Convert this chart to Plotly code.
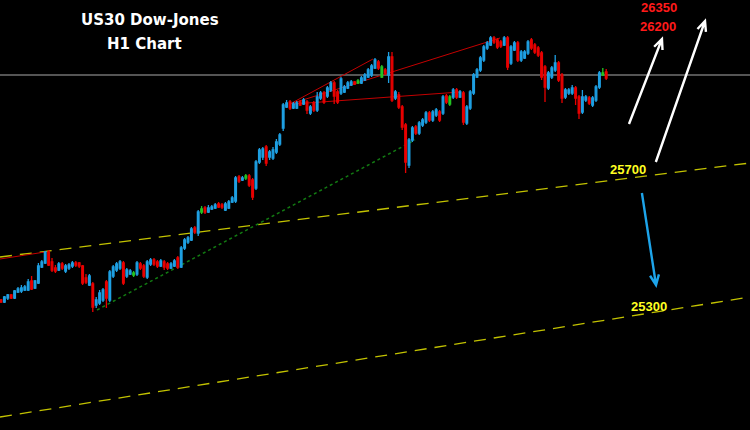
import math
import plotly.graph_objects as go

# ---------------- data (US30 H1 candles, price points) ----------------
candle_idx = list(range(179))
open_ = [25310,25304,25316,25325,25316,25334,25337,25340,25340,25367,
         25346,25361,25409,25421,25454,25424,25406,25400,25418,25397,
         25406,25412,25421,25421,25412,25376,25355,25358,25295,25301,
         25310,25364,25310,25382,25400,25406,25421,25382,25388,25391,
         25388,25418,25412,25379,25418,25430,25424,25412,25424,25418,
         25406,25412,25436,25409,25466,25484,25490,25526,25511,25574,
         25586,25574,25583,25586,25598,25595,25580,25586,25604,25607,
         25679,25670,25676,25682,25670,25646,25724,25739,25769,25739,
         25736,25754,25778,25826,25889,25904,25886,25886,25904,25898,
         25904,25871,25901,25880,25916,25931,25922,25940,25961,25934,
         25931,25934,25946,25955,25964,25961,25961,25970,25979,25985,
         26006,26024,25979,26000,25985,26039,25916,25925,25889,25835,
         25715,25790,25829,25811,25835,25844,25871,25850,25865,25874,
         25871,25922,25898,25919,25940,25919,25931,25841,25886,25931,
         25979,26000,26030,26066,26075,26096,26090,26084,26075,26096,
         26021,26060,26081,26030,26036,26051,26090,26075,26066,26051,
         26009,25946,25979,26000,26021,25985,25919,25931,25931,25946,
         25919,25874,25910,25916,25895,25910,25949,25985,25994]
high = [25313,25322,25328,25328,25340,25349,25355,25355,25373,25382,
        25370,25421,25430,25457,25460,25436,25415,25424,25424,25418,
        25421,25427,25427,25424,25415,25388,25388,25364,25319,25340,
        25346,25370,25400,25415,25424,25430,25427,25406,25403,25397,
        25427,25424,25418,25430,25436,25436,25430,25433,25430,25424,
        25424,25433,25442,25472,25496,25502,25529,25532,25580,25592,
        25592,25595,25595,25601,25604,25601,25604,25610,25622,25682,
        25685,25682,25688,25688,25676,25730,25766,25769,25775,25760,
        25769,25793,25811,25901,25910,25910,25904,25907,25910,25916,
        25910,25895,25907,25934,25937,25937,25952,25967,25967,25940,
        25979,25955,25967,25970,25967,25973,25982,25991,26006,26018,
        26036,26030,26015,26006,26054,26054,25940,25934,25895,25841,
        25796,25832,25835,25847,25856,25877,25877,25880,25886,25880,
        25925,25928,25925,25946,25946,25940,25937,25895,25940,25991,
        26006,26042,26075,26087,26102,26102,26096,26090,26102,26102,
        26075,26087,26087,26060,26060,26090,26096,26081,26072,26057,
        26015,25997,26012,26045,26027,25991,25946,25946,25955,25952,
        25925,25940,25925,25922,25922,25955,25997,26006,26003]
low = [25301,25301,25310,25313,25313,25331,25331,25337,25337,25340,
       25343,25358,25406,25418,25412,25394,25391,25397,25400,25391,
       25400,25406,25409,25406,25355,25358,25352,25274,25286,25295,
       25304,25286,25304,25376,25394,25400,25355,25376,25385,25379,
       25382,25400,25376,25373,25412,25412,25406,25409,25400,25400,
       25403,25409,25403,25406,25460,25478,25487,25508,25502,25568,
       25568,25571,25580,25583,25586,25583,25577,25583,25601,25601,
       25661,25667,25670,25649,25610,25640,25718,25730,25712,25730,
       25730,25748,25772,25817,25886,25880,25883,25883,25892,25895,
       25868,25865,25874,25874,25910,25898,25916,25934,25898,25898,
       25925,25931,25943,25952,25955,25958,25958,25967,25976,25979,
       26003,26000,25976,25985,25961,25904,25910,25883,25820,25691,
       25706,25784,25805,25805,25829,25838,25844,25844,25859,25844,
       25865,25898,25892,25913,25913,25916,25835,25835,25880,25925,
       25976,25994,26024,26060,26072,26078,26063,26066,26072,26000,
       26015,26057,26024,26024,26033,26045,26060,26048,26039,25970,
       25904,25940,25973,25994,25964,25901,25913,25925,25925,25895,
       25853,25868,25904,25895,25889,25904,25943,25982,25970]
close = [25304,25319,25325,25316,25337,25343,25346,25349,25364,25343,
         25367,25412,25424,25454,25415,25400,25397,25418,25406,25412,
         25415,25421,25415,25412,25361,25364,25382,25289,25310,25331,
         25340,25316,25394,25409,25418,25424,25361,25400,25397,25385,
         25421,25406,25382,25424,25430,25418,25412,25427,25409,25406,
         25418,25427,25409,25466,25490,25496,25523,25514,25574,25583,
         25574,25586,25589,25595,25589,25589,25598,25604,25616,25676,
         25667,25676,25682,25655,25619,25724,25760,25763,25721,25754,
         25760,25784,25805,25895,25901,25886,25898,25901,25895,25910,
         25880,25889,25880,25919,25931,25904,25946,25961,25922,25904,
         25973,25949,25961,25964,25958,25967,25976,25985,26000,26012,
         26030,26006,26009,25991,26039,25910,25934,25889,25829,25724,
         25790,25826,25811,25841,25850,25871,25850,25874,25880,25850,
         25919,25904,25919,25940,25919,25934,25844,25889,25934,25985,
         26000,26036,26069,26081,26096,26084,26069,26072,26096,26009,
         26069,26081,26030,26054,26054,26084,26066,26054,26045,25979,
         25949,25991,26006,26021,25970,25916,25940,25940,25946,25916,
         25871,25919,25919,25901,25916,25949,25991,25991,25976]
green_candles = [39, 59, 72, 105, 112, 132, 177]   # candles drawn in green

resistance_level = 25985                      # grey horizontal line
level_labels = ["26350", "26200", "25700", "25300"]
title_lines = ["US30 Dow-Jones", "H1 Chart"]

# ---------------- helpers ----------------
W, H = 750, 430
X0, X1 = -0.294, 220.294
Y0, Y1 = 24920, 26210

def to_px(x, y):
    return ((x - X0) / (X1 - X0) * W, (Y1 - y) / (Y1 - Y0) * H)

def to_data(px, py):
    return (X0 + px / W * (X1 - X0), Y1 - py / H * (Y1 - Y0))

fig = go.Figure()

main = [i for i in candle_idx if i not in green_candles]
fig.add_trace(go.Candlestick(
    x=[candle_idx[i] for i in main],
    open=[open_[i] for i in main], high=[high[i] for i in main],
    low=[low[i] for i in main], close=[close[i] for i in main],
    increasing=dict(line=dict(color="#1e9fe2", width=1.3), fillcolor="#1e9fe2"),
    decreasing=dict(line=dict(color="#e80000", width=1.3), fillcolor="#e80000"),
    whiskerwidth=0, showlegend=False, hoverinfo="skip"))
fig.add_trace(go.Candlestick(
    x=[candle_idx[i] for i in green_candles],
    open=[open_[i] for i in green_candles], high=[high[i] for i in green_candles],
    low=[low[i] for i in green_candles], close=[close[i] for i in green_candles],
    increasing=dict(line=dict(color="#22c322", width=1.3), fillcolor="#22c322"),
    decreasing=dict(line=dict(color="#22c322", width=1.3), fillcolor="#22c322"),
    whiskerwidth=0, showlegend=False, hoverinfo="skip"))

shapes = []
# grey horizontal level
shapes.append(dict(type="line", xref="paper", x0=0, x1=1, yref="y",
                   y0=resistance_level, y1=resistance_level,
                   line=dict(color="#555555", width=2), layer="below"))
# yellow channel lines
shapes.append(dict(type="line", xref="x", yref="y", x0=X0, y0=25439, x1=X1, y1=25721,
                   line=dict(color="#c2c200", width=1.3, dash="12px,8px"), layer="below"))
shapes.append(dict(type="line", xref="x", yref="y", x0=X0, y0=24959, x1=X1, y1=25319,
                   line=dict(color="#c2c200", width=1.3, dash="12px,8px"), layer="below"))
# green dotted support
shapes.append(dict(type="line", xref="x", yref="y", x0=28.24, y0=25280, x1=121.76, y1=25790,
                   line=dict(color="#127a12", width=1.5, dash="3px,3px"), layer="below"))
# red trend lines
red = "#c40000"
for (xa, ya, xb, yb) in [(X0, 25433, 12.94, 25454),
                         (85.0, 25898, 109.4, 26033),
                         (85.0, 25898, 146.76, 26096),
                         (85.9, 25898, 135.0, 25934)]:
    shapes.append(dict(type="line", xref="x", yref="y", x0=xa, y0=ya, x1=xb, y1=yb,
                       line=dict(color=red, width=1), layer="below"))

# arrows (tail -> head), drawn with open chevron heads
def arrow(tail, head, color, width=2.4, L=11, ang=24):
    tx, ty = to_px(*tail)
    hx, hy = to_px(*head)
    d = math.hypot(hx - tx, hy - ty)
    ux, uy = (hx - tx) / d, (hy - ty) / d
    pts = []
    for s in (1, -1):
        a = math.radians(ang) * s
        rx = ux * math.cos(a) - uy * math.sin(a)
        ry = ux * math.sin(a) + uy * math.cos(a)
        pts.append(to_data(hx - L * rx, hy - L * ry))
    p = (f"M {tail[0]},{tail[1]} L {head[0]},{head[1]} "
         f"M {pts[0][0]},{pts[0][1]} L {head[0]},{head[1]} L {pts[1][0]},{pts[1][1]}")
    return dict(type="path", xref="x", yref="y", path=p,
                line=dict(color=color, width=width))

shapes.append(arrow((184.7, 25838), (194.4, 26093), "white"))
shapes.append(arrow((192.6, 25724), (207.06, 26147), "white"))
shapes.append(arrow((188.5, 25631), (192.65, 25355), "#1da4ea"))

annotations = [
    dict(text=f"<b>{title_lines[0]}</b>", x=150 / W, y=1 - 20 / H),
    dict(text=f"<b>{title_lines[1]}</b>", x=144 / W, y=1 - 44 / H),
]
for a in annotations:
    a.update(xref="paper", yref="paper", showarrow=False, xanchor="center", yanchor="middle",
             font=dict(family="DejaVu Sans, Verdana", size=15, color="white"))

label_pos = [(659, 7, "#ff1a1a"), (658, 27, "#ff1a1a"), (628, 169, "#ffff22"), (649, 306, "#ffff22")]
for txt, (px, py, col) in zip(level_labels, label_pos):
    annotations.append(dict(text=f"<b>{txt}</b>", xref="paper", yref="paper",
                            x=px / W, y=1 - py / H, showarrow=False,
                            xanchor="center", yanchor="middle",
                            font=dict(family="Liberation Sans, Arial", size=13, color=col)))

fig.update_layout(
    width=W, height=H, margin=dict(l=0, r=0, t=0, b=0),
    paper_bgcolor="black", plot_bgcolor="black",
    xaxis=dict(range=[X0, X1], visible=False, rangeslider=dict(visible=False), fixedrange=True),
    yaxis=dict(range=[Y0, Y1], visible=False, fixedrange=True),
    shapes=shapes, annotations=annotations, showlegend=False,
)

fig.write_html("out.html", config={"displayModeBar": False},
               post_script="document.body.style.margin='0';document.body.style.background='black';")
